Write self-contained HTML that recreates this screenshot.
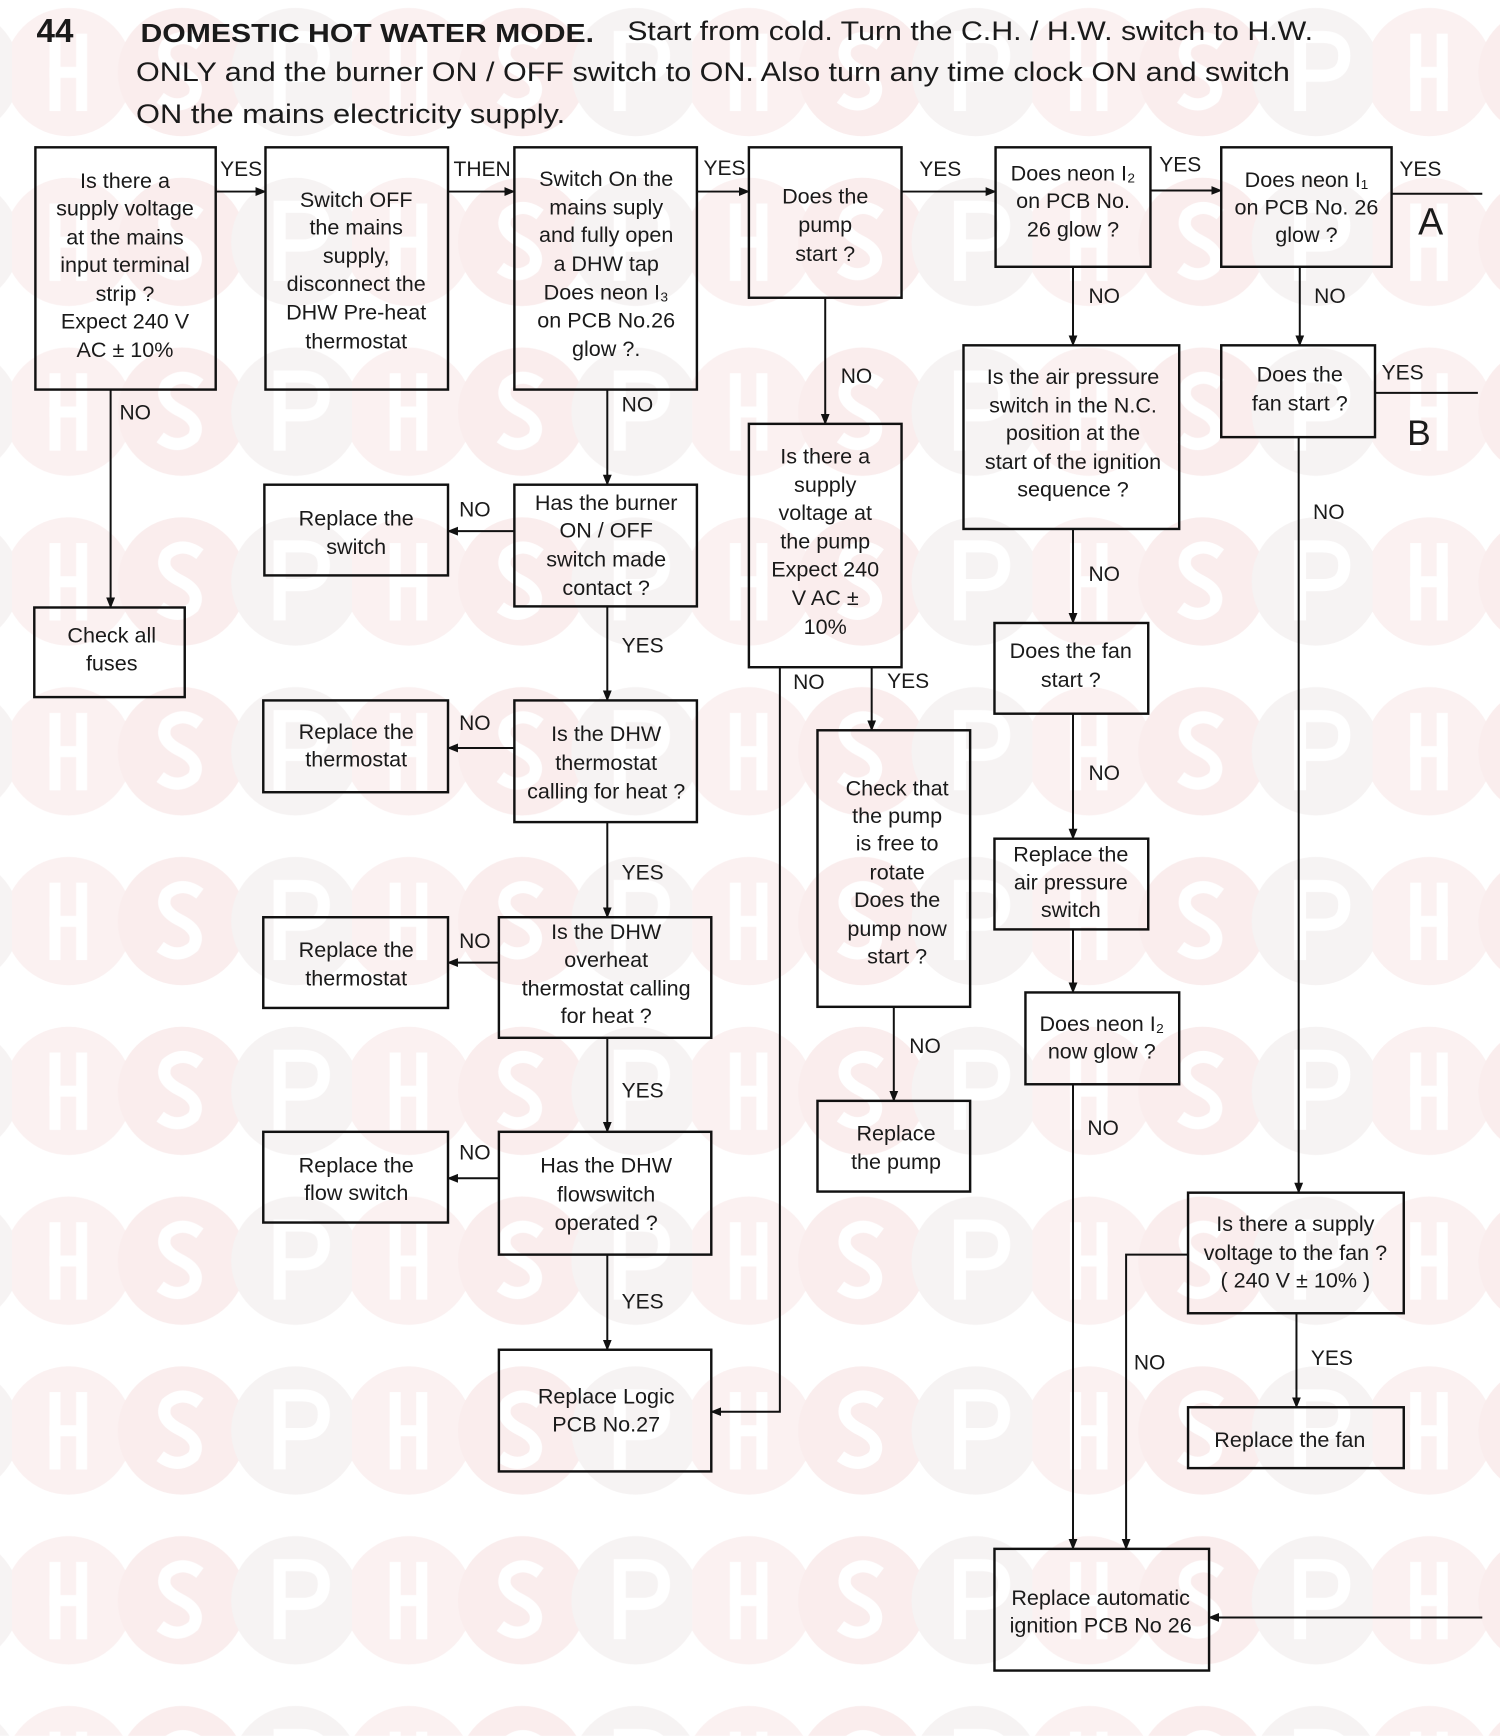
<!DOCTYPE html>
<html><head><meta charset="utf-8"><style>
html,body{margin:0;padding:0;background:#fff;}
svg{display:block;}
text{font-family:"Liberation Sans",sans-serif;fill:#1a1a1a;}
.b{font-size:19.5px;text-anchor:middle;dominant-baseline:central;}
.l{font-size:19px;dominant-baseline:central;}
rect.bx{fill:none;stroke:#111;stroke-width:2.2;}
line,polyline{stroke:#111;stroke-width:1.8;fill:none;}
</style></head><body>
<svg width="1500" height="1736" viewBox="0 0 1356 1569" xmlns="http://www.w3.org/2000/svg">
<defs>
<marker id="a" markerWidth="10" markerHeight="10" refX="9" refY="5" orient="auto" markerUnits="userSpaceOnUse"><path d="M0,1 L10,5 L0,9 Z" fill="#111"/></marker>
<pattern id="wp" patternUnits="userSpaceOnUse" x="10.75" y="-11.75" width="307.5" height="153.5">
<circle cx="51.25" cy="76.75" r="58" fill="#fbf1f1"/>
<circle cx="153.75" cy="76.75" r="58" fill="#faeded"/>
<circle cx="256.25" cy="76.75" r="58" fill="#f6f3f3"/>
<rect x="34" y="42" width="10" height="70" fill="#fff"/><rect x="58" y="42" width="10" height="70" fill="#fff"/><rect x="34" y="72" width="34" height="10" fill="#fff"/>
<path d="M170,52 Q154,40 140,52 Q132,66 152,76 Q172,86 164,100 Q150,112 134,100" stroke="#fff" stroke-width="11" fill="none"/>
<path d="M242,112 V45 H262 Q282,45 282,62 Q282,80 262,80 H242" stroke="#fff" stroke-width="11" fill="none"/>
</pattern>
</defs>
<rect x="0" y="0" width="1356" height="1569" fill="url(#wp)"/>

<text x="33" y="38" style="font-size:30px;font-weight:bold">44</text>
<text x="127" y="38" style="font-size:23px;font-weight:bold" textLength="410" lengthAdjust="spacingAndGlyphs">DOMESTIC HOT WATER MODE.</text>
<text x="567" y="36" style="font-size:24px" textLength="620" lengthAdjust="spacingAndGlyphs">Start from cold. Turn the C.H. / H.W. switch to H.W.</text>
<text x="123" y="73" style="font-size:24px" textLength="1043" lengthAdjust="spacingAndGlyphs">ONLY and the burner ON / OFF switch to ON. Also turn any time clock ON and switch</text>
<text x="123" y="111" style="font-size:24px" textLength="388" lengthAdjust="spacingAndGlyphs">ON the mains electricity supply.</text>

<rect class="bx" x="32" y="133" width="163" height="219"/>
<text class="b" x="113" y="163">Is there a</text><text class="b" x="113" y="188">supply voltage</text><text class="b" x="113" y="214">at the mains</text><text class="b" x="113" y="239">input terminal</text><text class="b" x="113" y="265">strip ?</text><text class="b" x="113" y="290">Expect 240 V</text><text class="b" x="113" y="316">AC ± 10%</text>

<rect class="bx" x="240" y="133" width="165" height="219"/>
<text class="b" x="322" y="180">Switch OFF</text><text class="b" x="322" y="205">the mains</text><text class="b" x="322" y="231">supply,</text><text class="b" x="322" y="256">disconnect the</text><text class="b" x="322" y="282">DHW Pre-heat</text><text class="b" x="322" y="308">thermostat</text>

<rect class="bx" x="465" y="133" width="165" height="219"/>
<text class="b" x="548" y="161">Switch On the</text><text class="b" x="548" y="187">mains suply</text><text class="b" x="548" y="212">and fully open</text><text class="b" x="548" y="238">a DHW tap</text><text class="b" x="548" y="264">Does neon I₃</text><text class="b" x="548" y="289">on PCB No.26</text><text class="b" x="548" y="315">glow ?.</text>

<rect class="bx" x="677" y="133" width="138" height="136"/>
<text class="b" x="746" y="177">Does the</text><text class="b" x="746" y="203">pump</text><text class="b" x="746" y="229">start ?</text>

<rect class="bx" x="900" y="133" width="140" height="108"/>
<text class="b" x="970" y="156">Does neon I₂</text><text class="b" x="970" y="181">on PCB No.</text><text class="b" x="970" y="207">26 glow ?</text>

<rect class="bx" x="1104" y="133" width="154" height="108"/>
<text class="b" x="1181" y="162">Does neon I₁</text><text class="b" x="1181" y="187">on PCB No. 26</text><text class="b" x="1181" y="212">glow ?</text>

<line x1="195" y1="173" x2="240" y2="173" marker-end="url(#a)"/><text class="l" x="199" y="153">YES</text>
<line x1="405" y1="173" x2="465" y2="173" marker-end="url(#a)"/><text class="l" x="410" y="153">THEN</text>
<line x1="630" y1="173" x2="677" y2="173" marker-end="url(#a)"/><text class="l" x="636" y="152">YES</text>
<line x1="815" y1="173" x2="900" y2="173" marker-end="url(#a)"/><text class="l" x="831" y="153">YES</text>
<line x1="1040" y1="172" x2="1104" y2="172" marker-end="url(#a)"/><text class="l" x="1048" y="149">YES</text>
<line x1="1258" y1="175" x2="1340" y2="175"/><text class="l" x="1265" y="153">YES</text>
<text x="1282" y="212" style="font-size:34px">A</text>

<line x1="100" y1="352" x2="100" y2="549" marker-end="url(#a)"/><text class="l" x="108" y="373">NO</text>
<rect class="bx" x="31" y="549" width="136" height="81"/>
<text class="b" x="101" y="574">Check all</text><text class="b" x="101" y="599">fuses</text>

<line x1="549" y1="352" x2="549" y2="438" marker-end="url(#a)"/><text class="l" x="562" y="366">NO</text>
<rect class="bx" x="465" y="438" width="165" height="110"/>
<text class="b" x="548" y="454">Has the burner</text><text class="b" x="548" y="479">ON / OFF</text><text class="b" x="548" y="505">switch made</text><text class="b" x="548" y="531">contact ?</text>
<line x1="465" y1="480" x2="405" y2="480" marker-end="url(#a)"/><text class="l" x="415" y="461">NO</text>
<rect class="bx" x="239" y="438" width="166" height="82"/>
<text class="b" x="322" y="468">Replace the</text><text class="b" x="322" y="494">switch</text>

<line x1="549" y1="548" x2="549" y2="633" marker-end="url(#a)"/><text class="l" x="562" y="584">YES</text>
<rect class="bx" x="465" y="633" width="165" height="110"/>
<text class="b" x="548" y="663">Is the DHW</text><text class="b" x="548" y="689">thermostat</text><text class="b" x="548" y="715">calling for heat ?</text>
<line x1="465" y1="676" x2="405" y2="676" marker-end="url(#a)"/><text class="l" x="415" y="654">NO</text>
<rect class="bx" x="238" y="633" width="167" height="83"/>
<text class="b" x="322" y="661">Replace the</text><text class="b" x="322" y="686">thermostat</text>

<line x1="549" y1="743" x2="549" y2="829" marker-end="url(#a)"/><text class="l" x="562" y="789">YES</text>
<rect class="bx" x="451" y="829" width="192" height="109"/>
<text class="b" x="548" y="842">Is the DHW</text><text class="b" x="548" y="867">overheat</text><text class="b" x="548" y="893">thermostat calling</text><text class="b" x="548" y="918">for heat ?</text>
<line x1="451" y1="870" x2="405" y2="870" marker-end="url(#a)"/><text class="l" x="415" y="851">NO</text>
<rect class="bx" x="238" y="829" width="167" height="82"/>
<text class="b" x="322" y="858">Replace the</text><text class="b" x="322" y="884">thermostat</text>

<line x1="549" y1="938" x2="549" y2="1023" marker-end="url(#a)"/><text class="l" x="562" y="986">YES</text>
<rect class="bx" x="451" y="1023" width="192" height="111"/>
<text class="b" x="548" y="1053">Has the DHW</text><text class="b" x="548" y="1079">flowswitch</text><text class="b" x="548" y="1105">operated ?</text>
<line x1="451" y1="1065" x2="405" y2="1065" marker-end="url(#a)"/><text class="l" x="415" y="1042">NO</text>
<rect class="bx" x="238" y="1023" width="167" height="82"/>
<text class="b" x="322" y="1053">Replace the</text><text class="b" x="322" y="1078">flow switch</text>

<line x1="549" y1="1134" x2="549" y2="1220" marker-end="url(#a)"/><text class="l" x="562" y="1177">YES</text>
<rect class="bx" x="451" y="1220" width="192" height="110"/>
<text class="b" x="548" y="1262">Replace Logic</text><text class="b" x="548" y="1287">PCB No.27</text>

<line x1="746" y1="269" x2="746" y2="383" marker-end="url(#a)"/><text class="l" x="760" y="340">NO</text>
<rect class="bx" x="677" y="383" width="138" height="220"/>
<text class="b" x="746" y="412">Is there a</text><text class="b" x="746" y="438">supply</text><text class="b" x="746" y="463">voltage at</text><text class="b" x="746" y="489">the pump</text><text class="b" x="746" y="514">Expect 240</text><text class="b" x="746" y="540">V AC ±</text><text class="b" x="746" y="566">10%</text>
<polyline points="705,603 705,1276 643,1276" marker-end="url(#a)"/><text class="l" x="717" y="617">NO</text>
<line x1="788" y1="603" x2="788" y2="660" marker-end="url(#a)"/><text class="l" x="802" y="616">YES</text>
<rect class="bx" x="739" y="660" width="138" height="250"/>
<text class="b" x="811" y="712">Check that</text><text class="b" x="811" y="737">the pump</text><text class="b" x="811" y="762">is free to</text><text class="b" x="811" y="788">rotate</text><text class="b" x="811" y="813">Does the</text><text class="b" x="811" y="839">pump now</text><text class="b" x="811" y="864">start ?</text>
<line x1="808" y1="910" x2="808" y2="995" marker-end="url(#a)"/><text class="l" x="822" y="946">NO</text>
<rect class="bx" x="739" y="995" width="138" height="82"/>
<text class="b" x="810" y="1024">Replace</text><text class="b" x="810" y="1050">the pump</text>

<line x1="970" y1="241" x2="970" y2="312" marker-end="url(#a)"/><text class="l" x="984" y="268">NO</text>
<rect class="bx" x="871" y="312" width="195" height="166"/>
<text class="b" x="970" y="340">Is the air pressure</text><text class="b" x="970" y="366">switch in the N.C.</text><text class="b" x="970" y="391">position at the</text><text class="b" x="970" y="417">start of the ignition</text><text class="b" x="970" y="442">sequence ?</text>
<line x1="970" y1="478" x2="970" y2="563" marker-end="url(#a)"/><text class="l" x="984" y="519">NO</text>
<rect class="bx" x="899" y="563" width="139" height="82"/>
<text class="b" x="968" y="588">Does the fan</text><text class="b" x="968" y="614">start ?</text>
<line x1="970" y1="645" x2="970" y2="758" marker-end="url(#a)"/><text class="l" x="984" y="699">NO</text>
<rect class="bx" x="899" y="758" width="139" height="82"/>
<text class="b" x="968" y="772">Replace the</text><text class="b" x="968" y="797">air pressure</text><text class="b" x="968" y="822">switch</text>
<line x1="970" y1="840" x2="970" y2="897" marker-end="url(#a)"/>
<rect class="bx" x="927" y="897" width="139" height="83"/>
<text class="b" x="996" y="925">Does neon I₂</text><text class="b" x="996" y="950">now glow ?</text>
<line x1="970" y1="980" x2="970" y2="1400" marker-end="url(#a)"/><text class="l" x="983" y="1020">NO</text>
<rect class="bx" x="899" y="1400" width="194" height="110"/>
<text class="b" x="995" y="1444">Replace automatic</text><text class="b" x="995" y="1469">ignition PCB No 26</text>
<line x1="1340" y1="1462" x2="1093" y2="1462" marker-end="url(#a)"/>

<line x1="1175" y1="241" x2="1175" y2="312" marker-end="url(#a)"/><text class="l" x="1188" y="268">NO</text>
<rect class="bx" x="1104" y="312" width="139" height="83"/>
<text class="b" x="1175" y="338">Does the</text><text class="b" x="1175" y="364">fan start ?</text>
<line x1="1243" y1="355" x2="1336" y2="355"/><text class="l" x="1249" y="337">YES</text>
<text x="1272" y="402" style="font-size:32px">B</text>
<line x1="1174" y1="395" x2="1174" y2="1078" marker-end="url(#a)"/><text class="l" x="1187" y="463">NO</text>
<rect class="bx" x="1074" y="1078" width="195" height="109"/>
<text class="b" x="1171" y="1106">Is there a supply</text><text class="b" x="1171" y="1132">voltage to the fan ?</text><text class="b" x="1171" y="1157">( 240 V ± 10% )</text>
<polyline points="1074,1134 1018,1134 1018,1400" marker-end="url(#a)"/><text class="l" x="1025" y="1232">NO</text>
<line x1="1172" y1="1187" x2="1172" y2="1272" marker-end="url(#a)"/><text class="l" x="1185" y="1228">YES</text>
<rect class="bx" x="1074" y="1272" width="195" height="55"/>
<text class="b" x="1166" y="1301">Replace the fan</text>
</svg>
</body></html>
